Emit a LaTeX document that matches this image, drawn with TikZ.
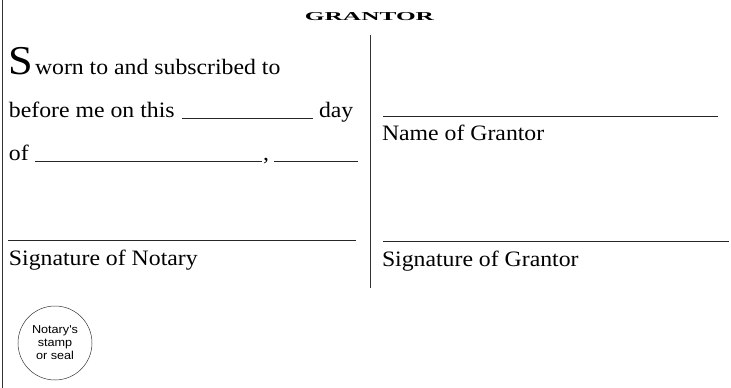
\documentclass[tikz,border=0pt]{standalone}
\usepackage{fontspec}
\setmainfont{Liberation Serif}[FakeStretch=1.08]
\newfontfamily\sansf{Liberation Sans}[FakeStretch=1.1]
\newfontfamily\headf{Liberation Serif}
\begin{document}
\begin{tikzpicture}[x=1pt,y=-1pt,
  txt/.style={anchor=base west,inner sep=0pt,outer sep=0pt,text=black,font=\fontsize{22}{24}\selectfont},
  blank/.style={draw=black!85,line width=0.8pt},
  rule/.style={draw=black!80,line width=0.9pt},
  seal/.style={circle,draw=black!80,line width=0.5pt,minimum size=74pt,inner sep=0pt,align=center,
    font=\sansf\fontsize{11.5}{13}\selectfont}]
\useasboundingbox (0,0) rectangle (731,388);
% borders
\coordinate (bt) at (2,0); \coordinate (bb) at (2,388);
\draw[rule,line width=0.7pt] (bt) -- (bb);
\coordinate (dt) at (370,35); \coordinate (db) at (370,288);
\draw[rule] (dt) -- (db);
% heading
\node[inner sep=0pt,anchor=south] (head) at (369.5,20.5) {\resizebox{129pt}{8pt}{\headf\bfseries GRANTOR}};
% left column
\node[txt,font=\fontsize{41}{44}\selectfont] (bigS) at (9,74) {S};
\node[txt] (l1) at (35,74) {worn to and subscribed to};
\node[txt] (l2a) at (9,117) {before me on this};
\coordinate (b1s) at (182,118.5); \coordinate (b1e) at (313,118.5);
\draw[blank] (b1s) -- (b1e);
\node[txt] (l2b) at (319,117) {day};
\node[txt] (l3a) at (9,160) {of};
\coordinate (b2s) at (35,161.5); \coordinate (b2e) at (262,161.5);
\draw[blank] (b2s) -- (b2e);
\node[txt] (comma) at (263,160) {,};
\coordinate (b3s) at (274,161.5); \coordinate (b3e) at (358,161.5);
\draw[blank] (b3s) -- (b3e);
\coordinate (nls) at (8,240); \coordinate (nle) at (356,240);
\draw[blank] (nls) -- (nle);
\node[txt] (notsig) at (9,265) {Signature of Notary};
% right column
\coordinate (gns) at (383,116); \coordinate (gne) at (718,116);
\draw[blank] (gns) -- (gne);
\node[txt] (gname) at (382,140) {Name of Grantor};
\coordinate (gss) at (383,241); \coordinate (gse) at (729,241);
\draw[blank] (gss) -- (gse);
\node[txt] (gsig) at (382,266) {Signature of Grantor};
% seal
\node[seal] (stamp) at (55,343) {Notary's\\stamp\\or seal};
\end{tikzpicture}
\end{document}
